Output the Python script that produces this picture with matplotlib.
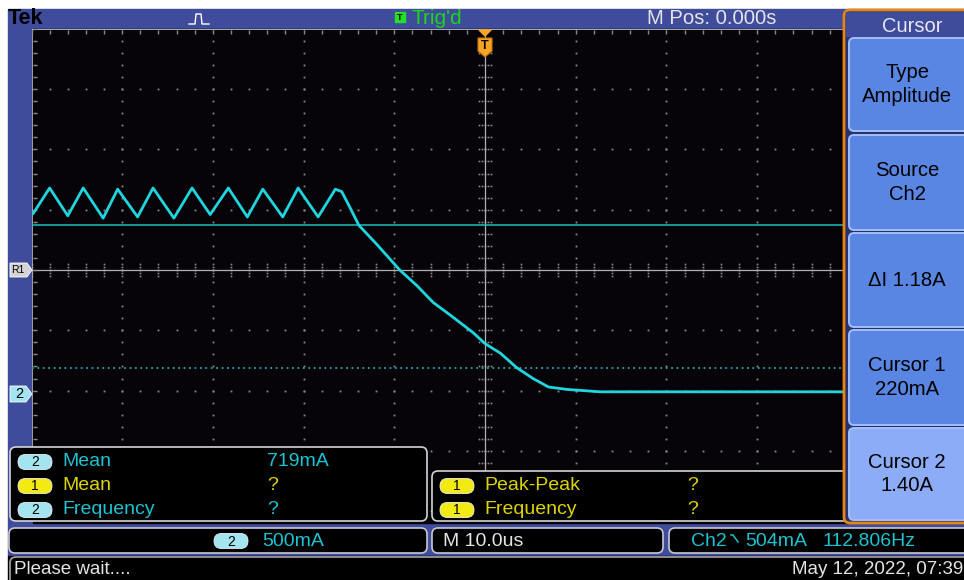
import numpy as np
import matplotlib.pyplot as plt
import matplotlib.transforms as mtransforms
from matplotlib.patches import Rectangle, FancyBboxPatch, Polygon

plt.rcParams['font.family'] = ['Liberation Sans', 'DejaVu Sans']

# scope settings
us_per_div = 10.0
amps_per_div = 0.5
ch2_pos_div = -2.06          # ch2 ground sits this many divisions below centre
cursor1_amps = 0.22
cursor2_amps = 1.40

# ch2 current: ripple vertices, then the fall after turn-off
trace_us = [-49.8, -48.0, -46.0, -44.3, -42.1, -40.5, -38.3, -36.6, -34.3,
            -32.3, -30.3, -28.3, -26.2, -24.5, -22.3, -20.6, -18.4, -16.5,
            -15.8, -14.9, -13.9, -11.9, -9.4, -7.5, -5.7, -3.9, -1.3, 0.0,
            1.7, 3.5, 5.3, 7.0, 9.0, 12.7, 20.0, 30.0, 40.0]
trace_amps = [1.50, 1.71, 1.48, 1.71, 1.46, 1.70, 1.47, 1.71, 1.46,
              1.71, 1.49, 1.71, 1.47, 1.70, 1.47, 1.71, 1.47, 1.70,
              1.68, 1.55, 1.40, 1.24, 1.03, 0.90, 0.76, 0.66, 0.51, 0.42,
              0.34, 0.22, 0.13, 0.06, 0.04, 0.02, 0.02, 0.02, 0.02]

# readouts
meas_left = [("2", "Mean", "719mA"), ("1", "Mean", "?"), ("2", "Frequency", "?")]
meas_right = [("1", "Peak-Peak", "?"), ("1", "Frequency", "?")]
menu_title = "Cursor"
menu_buttons = ["Type\nAmplitude", "Source\nCh2", "\u0394I 1.18A",
                "Cursor 1\n220mA", "Cursor 2\n1.40A"]
top_pos = "M Pos: 0.000s"
trig_state = "Trig'd"
ch2_scale = "500mA"
timebase = "M 10.0us"
trig_level = "504mA"
trig_freq = "112.806Hz"
status = "Please wait...."
stamp = "May 12, 2022, 07:39"

BLUE = '#3f4b9b'
SCREEN = '#060409'
TRACE = '#1fd6de'
CYAN_TXT = '#1cc3d0'
YEL_TXT = '#dcd400'
CYAN_BADGE = '#a2e4ef'
YEL_BADGE = '#f2ea12'
DOT = '#8c8c8c'
GRID = '#b0b0b0'
TEXT_GRAY = '#e4e4e4'
ORANGE = '#e8860f'
FS = 14

W, H = 964, 580
fig = plt.figure(figsize=(W / 100, H / 100), dpi=100, facecolor='white')


def pixel_axes(z):
    a = fig.add_axes([0, 0, 1, 1], zorder=z)
    a.set_xlim(0, W)
    a.set_ylim(H, 0)
    a.axis('off')
    a.patch.set_alpha(0)
    return a


bg = pixel_axes(0)
bg.add_patch(Rectangle((8, 9), W - 8, 547, color=BLUE))
bg.add_patch(Rectangle((33, 29), 815, 494, color=SCREEN))
bg.add_patch(Rectangle((8, 556), W - 8, 24, color='black'))

# graticule axes in real units
ax = fig.add_axes([31.5 / W, (H - 511.2) / H, 907 / W, 482.4 / H], zorder=1)
ax.patch.set_alpha(0)
ax.axis('off')
ax.set_xlim(-5 * us_per_div, 5 * us_per_div)
ax.set_ylim((-4 - ch2_pos_div) * amps_per_div, (4 - ch2_pos_div) * amps_per_div)

I_mid = -ch2_pos_div * amps_per_div
t_lines = np.arange(-5, 6) * us_per_div
I_lines = I_mid + np.arange(-4, 5) * amps_per_div
sub_t = np.arange(-25, 26) * us_per_div / 5
sub_I = I_mid + np.arange(-20, 21) * amps_per_div / 5

tt, ii = np.meshgrid(t_lines[1:], sub_I)
ax.plot(tt.ravel(), ii.ravel(), ls='none', marker='s', ms=1.3, mew=0, color=DOT)
tt, ii = np.meshgrid(sub_t, I_lines[:-1])
ax.plot(tt.ravel(), ii.ravel(), ls='none', marker='s', ms=1.3, mew=0, color=DOT)

# centre cross with paired tick dots
ax.axvline(0, color=GRID, lw=0.9)
ax.axhline(I_mid, color=GRID, lw=0.9)
for d in (-6, -3, 3, 6):
    tr = mtransforms.offset_copy(ax.transData, fig, x=0, y=d, units='dots')
    ax.plot(sub_t, np.full(sub_t.size, I_mid), ls='none', marker='s', ms=1.2,
            mew=0, color=DOT, transform=tr)
    tr = mtransforms.offset_copy(ax.transData, fig, x=d, y=0, units='dots')
    ax.plot(np.zeros(sub_I.size), sub_I, ls='none', marker='s', ms=1.2,
            mew=0, color=DOT, transform=tr)

# graticule edges with minor ticks
y_top = ax.get_ylim()[1]
ax.axhline(y_top, color=GRID, lw=1.4)
ax.axvline(-5 * us_per_div, color=GRID, lw=1.2)
tr = mtransforms.offset_copy(ax.transData, fig, x=0, y=-3, units='dots')
ax.plot(sub_t, np.full(sub_t.size, y_top), ls='none', marker='|', ms=3,
        mew=1, color=DOT, transform=tr)
tr = mtransforms.offset_copy(ax.transData, fig, x=3, y=0, units='dots')
ax.plot(np.full(sub_I.size, -5 * us_per_div), sub_I, ls='none', marker='_',
        ms=3, mew=1, color=DOT, transform=tr)

# cursors and trace
ax.axhline(cursor2_amps, color='#22bcc4', lw=1.1)
ax.axhline(cursor1_amps, color='#1ea4ae', lw=1.3, ls=(0, (1, 2)))
ax.plot(trace_us, trace_amps, color=TRACE, lw=2.0, solid_joinstyle='round')

ov = pixel_axes(3)

# trigger position marker
ov.add_patch(Polygon([(479, 30), (491, 30), (485, 36)], color='#f5a523'))
ov.add_patch(Polygon([(478, 38), (492, 38), (492, 51), (485, 57), (478, 51)],
                     fc='#f5a523', ec='#c07010', lw=0.8))
ov.text(485, 46, "T", color='black', fontsize=9, fontweight='bold',
        ha='center', va='center')

# channel / reference markers
ov.add_patch(Polygon([(10, 263), (27, 263), (32, 270), (27, 277), (10, 277)],
                     fc='#d4d4d4', ec='white', lw=0.6))
ov.text(18, 270, "R1", color='black', fontsize=7.5, ha='center', va='center')
ov.add_patch(Polygon([(10, 386), (26, 386), (32, 394), (26, 402), (10, 402)],
                     fc=CYAN_BADGE, ec='white', lw=0.6))
ov.text(19, 394.5, "2", color='black', fontsize=10.5, ha='center', va='center')

# top bar
ov.text(8, 19, "Tek", color='black', fontsize=15.5, fontweight='bold',
        ha='left', va='center')
ov.plot([189, 195, 196, 201, 202, 209], [24, 24, 14, 14, 24, 24],
        color='white', lw=1)
ov.add_patch(Rectangle((395, 12), 10, 10, color='#22e022'))
ov.text(400, 17.5, "T", color='black', fontsize=6.5, fontweight='bold',
        ha='center', va='center')
ov.text(412, 19, trig_state, color='#18d818', fontsize=15, ha='left', va='center')
ov.text(647, 19, top_pos, color=TEXT_GRAY, fontsize=14.6, ha='left', va='center')


def badge(x, y, num, fc):
    ov.add_patch(FancyBboxPatch((x, y - 7.5), 34, 15,
                                boxstyle='round,pad=0,rounding_size=7.5',
                                fc=fc, ec='#f0f0f0', lw=0.6))
    ov.text(x + 17, y + 0.5, num, color='black', fontsize=10,
            ha='center', va='center')


def box(x, y, w, h, ec='#d4d4d4'):
    ov.add_patch(FancyBboxPatch((x, y), w, h,
                                boxstyle='round,pad=0,rounding_size=6',
                                fc='black', ec=ec, lw=1.2))


# measurement panels
box(10, 447, 417, 74)
for k, (num, name, val) in enumerate(meas_left):
    y = 462 + 24 * k
    col = CYAN_TXT if num == "2" else YEL_TXT
    badge(18, y, num, CYAN_BADGE if num == "2" else YEL_BADGE)
    ov.text(62, y, name, color=col, fontsize=FS, ha='left', va='center')
    ov.text(267, y, val, color=col, fontsize=FS, ha='left', va='center')

box(432, 471, 430, 50)
for k, (num, name, val) in enumerate(meas_right):
    y = 486 + 24 * k
    badge(440, y, num, YEL_BADGE)
    ov.text(484, y, name, color=YEL_TXT, fontsize=FS, ha='left', va='center')
    ov.text(687, y, val, color=YEL_TXT, fontsize=FS, ha='left', va='center')

# bottom status bar
box(9, 528, 418, 25, ec='#c8c8d4')
box(432, 528, 231, 25, ec='#c8c8d4')
box(669, 528, 310, 25, ec='#c8c8d4')
badge(214, 541, "2", CYAN_BADGE)
ov.text(262, 541, ch2_scale, color=CYAN_TXT, fontsize=FS, ha='left', va='center')
ov.text(443, 541, timebase, color=TEXT_GRAY, fontsize=FS, ha='left', va='center')
ov.text(691, 542, "Ch2", color=CYAN_TXT, fontsize=FS, ha='left', va='center')
ov.plot([731, 733, 738], [535, 535, 542], color=CYAN_TXT, lw=1.1)
ov.text(745, 541, trig_level, color=CYAN_TXT, fontsize=FS, ha='left', va='center')
ov.text(822, 541, trig_freq, color=CYAN_TXT, fontsize=FS, ha='left', va='center')

box(10, 557, 980, 40, ec='#a8a8a8')
ov.text(14, 570, status, color=TEXT_GRAY, fontsize=13.5, ha='left', va='center')
ov.text(963, 570, stamp, color=TEXT_GRAY, fontsize=13.5, ha='right', va='center')

# side menu
ov.add_patch(FancyBboxPatch((844, 10), 130, 513,
                            boxstyle='round,pad=0,rounding_size=6',
                            fc='#27316e', ec=ORANGE, lw=2))
ov.add_patch(Rectangle((846, 12), 120, 24, color=BLUE))
ov.text(912, 26, menu_title, color='#e6e6f4', fontsize=14.5, ha='center', va='center')
spans = [(38, 131), (135, 230), (233, 327), (330, 425), (428, 520)]
for k, ((top, bot), label) in enumerate(zip(spans, menu_buttons)):
    fc = '#8dacf7' if k == len(spans) - 1 else '#5986e3'
    ov.add_patch(FancyBboxPatch((849, top), 130, bot - top,
                                boxstyle='round,pad=0,rounding_size=5',
                                fc=fc, ec='#a4bef8', lw=1.4))
    ov.text(907, (top + bot) / 2, label, color='black', fontsize=14.6,
            ha='center', va='center', linespacing=1.3)

fig.savefig('out.png', dpi=100, facecolor=fig.get_facecolor())
